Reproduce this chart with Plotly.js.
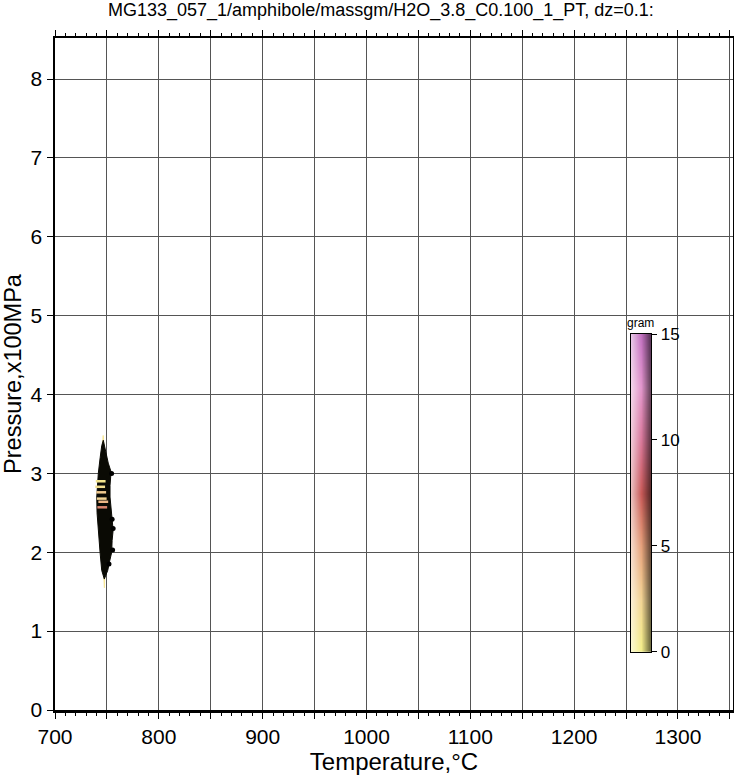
<!DOCTYPE html>
<html>
<head>
<meta charset="utf-8">
<script src="https://cdn.plot.ly/plotly-3.0.1.min.js"></script>
<style>html,body{margin:0;padding:0;background:#fff;}</style>
</head>
<body>
<div id="chart" style="width:734px;height:776px;"></div>
<script>
// Outline of the amphibole stability field (T in °C, P in x100 MPa)
const fieldT = [746.5, 748.5, 751.3, 754, 753, 753, 755, 756, 755, 754.6, 752.5, 750.8, 747.5, 745, 743.4, 742, 741.7, 740.5, 740.2, 741, 741.7, 743.5, 745, 746.5];
const fieldP = [3.42, 3.3, 3.13, 3.02, 2.85, 2.7, 2.45, 2.28, 2.15, 2.0, 1.88, 1.77, 1.66, 1.77, 2.0, 2.2, 2.28, 2.5, 2.7, 2.85, 3.0, 3.2, 3.35, 3.42];
// low-value (yellow) rim around the tips
const rimT = [746.4, 747.5, 749.5, 749, 748, 747.6, 746.8, 745.5, 744.5, 745.5, 746.4];
const rimP = [3.48, 3.3, 3.1, 2.0, 1.75, 1.55, 1.75, 2.0, 3.1, 3.3, 3.48];
// scattered dots on the field edge
const dotT = [754.5, 755.5, 756, 755, 752];
const dotP = [3.0, 2.03, 2.3, 2.42, 1.85];
// interior coloured fragments
const fragT = [743.5, 744.5, 745, 746.5, 745.5, 744];
const fragP = [2.83, 2.76, 2.68, 2.64, 2.57, 2.9];
const fragV = [1.5, 3, 2.5, 4, 6, 1];
// colour scale
const zMin = 0, zMax = 15;
const cbTicks = [0, 5, 10, 15];
const xTicks = [700, 750, 800, 850, 900, 950, 1000, 1050, 1100, 1150, 1200, 1250, 1300, 1350];
const xTickText = ['700', '', '800', '', '900', '', '1000', '', '1100', '', '1200', '', '1300', ''];

const cscale = [[0, '#f4f08a'], [0.167, '#f2d494'], [0.333, '#e6a27c'], [0.5, '#c85a58'], [0.667, '#d8789a'], [0.833, '#e296cc'], [1, '#c270c0']];
const shade = [[0, 'rgba(255,255,255,0.6)'], [0.5, 'rgba(255,255,255,0)'], [0.5001, 'rgba(0,0,0,0)'], [1, 'rgba(0,0,0,0.62)']];

const font = 'Liberation Sans, Arial, sans-serif';
const traces = [
  {x: rimT, y: rimP, type: 'scatter', mode: 'lines', fill: 'toself', fillcolor: '#f8e896', line: {color: '#f8e896', width: 1}, hoverinfo: 'skip', showlegend: false},
  {x: fieldT, y: fieldP, type: 'scatter', mode: 'lines', fill: 'toself', fillcolor: '#0a0a04', line: {color: '#0a0a04', width: 1}, hoverinfo: 'skip', showlegend: false},
  {x: fragT, y: fragP, type: 'scatter', mode: 'markers', marker: {symbol: 'line-ew-open', size: 7, line: {width: 2.5}, color: fragV, cmin: zMin, cmax: zMax, colorscale: cscale}, hoverinfo: 'skip', showlegend: false},
  {x: dotT, y: dotP, type: 'scatter', mode: 'markers', marker: {size: 5, color: '#000'}, hoverinfo: 'skip', showlegend: false},
  // colour bar drawn as a smoothed heatmap + shading overlay
  {x: [0, 1], y: [zMin, zMax], z: [[zMin, zMin], [zMax, zMax]], type: 'heatmap', zsmooth: 'best', colorscale: cscale, zmin: zMin, zmax: zMax, showscale: false, xaxis: 'x2', yaxis: 'y2', hoverinfo: 'skip'},
  {x: [0, 1], y: [zMin, zMax], z: [[0, 1], [0, 1]], type: 'heatmap', zsmooth: 'best', colorscale: shade, zmin: 0, zmax: 1, showscale: false, xaxis: 'x2', yaxis: 'y2', hoverinfo: 'skip'}
];

const layout = {
  width: 734, height: 776,
  margin: {l: 55, r: 1, t: 38, b: 66},
  paper_bgcolor: '#fff', plot_bgcolor: 'rgba(0,0,0,0)',
  title: {text: 'MG133_057_1/amphibole/massgm/H2O_3.8_C0.100_1_PT, dz=0.1:', font: {family: font, size: 18, color: '#000'},
          x: 0.519, xref: 'container', xanchor: 'center', y: 0.987, yref: 'container', yanchor: 'middle'},
  xaxis: {range: [700, 1353], tickmode: 'array', tickvals: xTicks, ticktext: xTickText,
          showgrid: true, gridcolor: '#555', gridwidth: 1, zeroline: false,
          showline: true, linecolor: '#000', linewidth: 2.5, mirror: 'ticks', ticks: 'outside', ticklen: 6, tickcolor: '#000',
          minor: {dtick: 10, ticks: 'outside', ticklen: 3, tickcolor: '#000', showgrid: false},
          tickfont: {family: font, size: 21, color: '#000'},
          title: {text: 'Temperature,°C', font: {family: font, size: 24, color: '#000'}, standoff: 4}},
  yaxis: {range: [0, 8.52], dtick: 1, showgrid: true, gridcolor: '#555', gridwidth: 1, zeroline: false,
          showline: true, linecolor: '#000', linewidth: 2.5, mirror: true, ticks: 'outside', ticklen: 6, tickcolor: '#000',
          tickfont: {family: font, size: 21, color: '#000'},
          title: {text: 'Pressure,x100MPa', font: {family: font, size: 23.5, color: '#000'}, standoff: 6}},
  xaxis2: {domain: [0.8496, 0.879], range: [0, 1], anchor: 'y2', showgrid: false, zeroline: false, showticklabels: false, ticks: '',
           showline: true, mirror: true, linecolor: '#000', linewidth: 1.5, fixedrange: true},
  yaxis2: {domain: [0.0868, 0.5595], range: [zMin, zMax], anchor: 'x2', side: 'right', tickvals: cbTicks, showgrid: false, zeroline: false,
           ticks: 'outside', ticklen: 5, tickcolor: '#000', showline: true, mirror: true, linecolor: '#000', linewidth: 1.5,
           tickfont: {family: font, size: 17, color: '#000'}},
  annotations: [{text: 'gram', x: 0.864, y: 0.576, xref: 'paper', yref: 'paper', xanchor: 'center', yanchor: 'middle', showarrow: false,
                 font: {family: font, size: 12, color: '#000'}}],
  showlegend: false
};
Plotly.newPlot('chart', traces, layout, {displayModeBar: false, staticPlot: true});
</script>
</body>
</html>
